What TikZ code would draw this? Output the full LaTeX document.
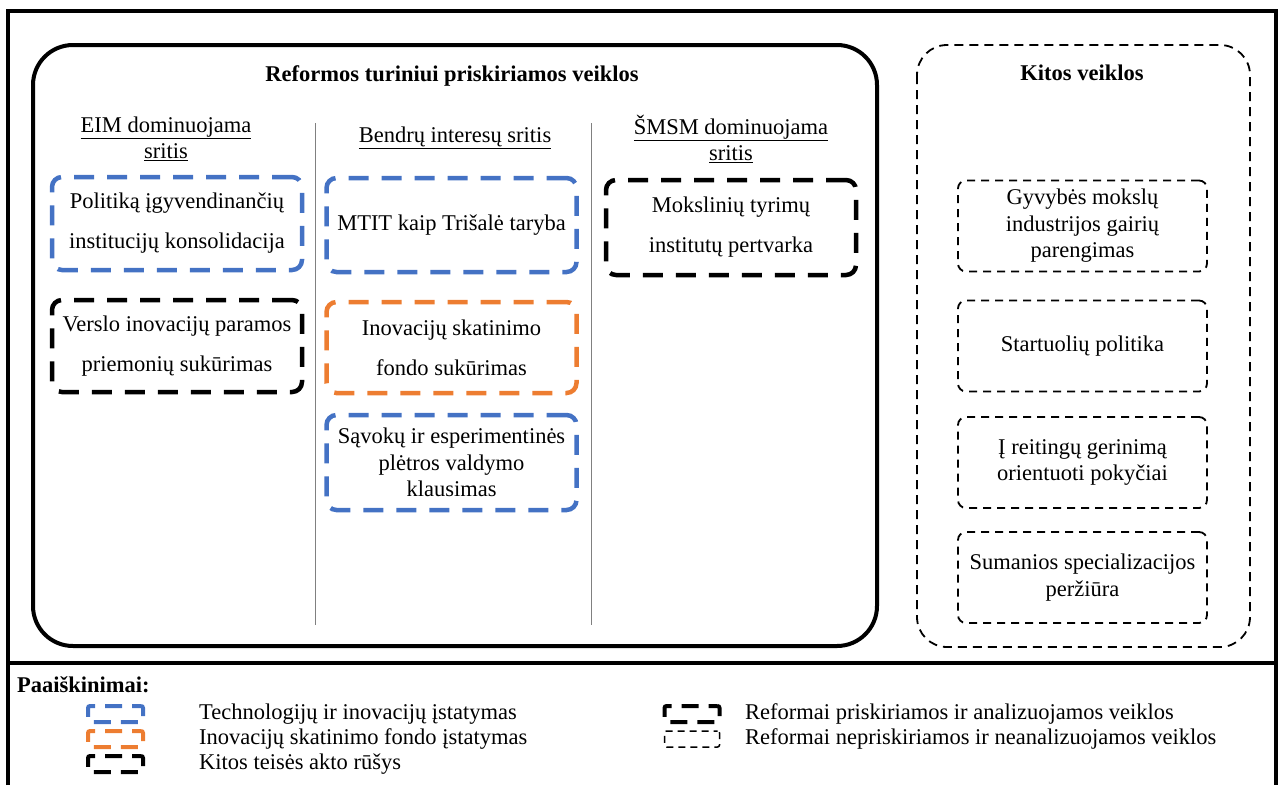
\documentclass[tikz,border=0pt]{standalone}
\usepackage{fontspec}
\setmainfont{Liberation Serif}
\definecolor{titblue}{RGB}{68,114,196}
\definecolor{isforange}{RGB}{237,125,49}

\begin{document}
\begin{tikzpicture}[x=1pt,y=-1pt,
  every node/.style={font=\fontsize{22.5}{26.5}\selectfont, align=center, inner sep=2pt},
  boldtxt/.style={font=\bfseries\fontsize{22.5}{26.5}\selectfont},
  actbox/.style={draw, line width=4.5pt, dash pattern=on 20pt off 13pt, rounded corners=10pt, minimum width=250pt},
  otherbox/.style={draw, line width=1.8pt, dash pattern=on 8pt off 6pt, rounded corners=8pt, minimum width=249pt, minimum height=91pt},
  widelines/.style={font=\fontsize{22.5}{40}\selectfont},
  legsym/.style={draw, line width=4pt, dash pattern=on 17pt off 10pt, dash phase=8pt, rounded corners=2pt, minimum width=55pt, minimum height=16pt, inner sep=0pt},
  legtext/.style={anchor=west, inner sep=0pt}]
  \useasboundingbox (0,0) rectangle (1283,785);

  \draw[line width=4pt] (8,785) -- (8,10.5) -- (1276,10.5) -- (1276,785);
  \draw[line width=3.5pt] (8,663) -- (1276,663);

  \draw[line width=4pt, rounded corners=40pt] (33,45) rectangle (877,646);
  \node[boldtxt] (reftitle) at (452,76) {Reformos turiniui priskiriamos veiklos};
  \node (eimhead) at (166,139) {\underline{EIM dominuojama}\\\underline{sritis}};
  \node (bendrhead) at (455,138) {\underline{Bendrų interesų sritis}};
  \node (smsmhead) at (731,139) {\underline{ŠMSM dominuojama}\\\underline{sritis}};
  \draw[gray, line width=1pt] (315,123) -- (315,625);
  \draw[gray, line width=1pt] (591,123) -- (591,625);

  \node[actbox, draw=titblue, widelines, minimum height=93pt] (polit) at (177,223.5) {Politiką įgyvendinančių\\institucijų konsolidacija};
  \node[actbox, widelines, minimum height=92pt] (verslo) at (177,346) {Verslo inovacijų paramos\\priemonių sukūrimas};
  \node[actbox, draw=titblue, minimum height=94pt] (mtit) at (451.5,225) {MTIT kaip Trišalė taryba};
  \node[actbox, draw=isforange, widelines, minimum height=91pt] (fondas) at (451.5,347.5) {Inovacijų skatinimo\\fondo sukūrimas};
  \node[actbox, draw=titblue, minimum height=95pt] (savoku) at (451.5,462.5) {Sąvokų ir esperimentinės\\plėtros valdymo\\klausimas};
  \node[actbox, widelines, minimum height=95pt] (moksl) at (731,227.5) {Mokslinių tyrimų\\institutų pertvarka};

  \draw[line width=1.8pt, dash pattern=on 9pt off 6pt, rounded corners=30pt] (917,45) rectangle (1250,647);
  \node[boldtxt] (kittitle) at (1082,73) {Kitos veiklos};
  \node[otherbox] (gyvyb) at (1082.5,226) {Gyvybės mokslų\\industrijos gairių\\parengimas};
  \node[otherbox] (startuol) at (1082.5,346) {Startuolių politika};
  \node[otherbox] (reiting) at (1082.5,462.5) {Į reitingų gerinimą\\orientuoti pokyčiai};
  \node[otherbox] (suman) at (1082.5,577.5) {Sumanios specializacijos\\peržiūra};

  \node[boldtxt, anchor=west, inner sep=0pt] (legtitle) at (17,685) {Paaiškinimai:};
  \node[legsym, draw=titblue] (legtit) at (115.5,714) {};
  \node[legsym, draw=isforange] (legisf) at (115.5,739) {};
  \node[legsym] (legkit) at (115.5,764) {};
  \node[legtext] (legtittxt) at (199,714) {Technologijų ir inovacijų įstatymas};
  \node[legtext] (legisftxt) at (199,739) {Inovacijų skatinimo fondo įstatymas};
  \node[legtext] (legkittxt) at (199,764) {Kitos teisės akto rūšys};
  \node[legsym] (legpri) at (692,714) {};
  \node[legsym, line width=1.5pt, dash pattern=on 7pt off 5pt, dash phase=3pt] (legnepri) at (692,739) {};
  \node[legtext] (legpritxt) at (745,714) {Reformai priskiriamos ir analizuojamos veiklos};
  \node[legtext] (legnepritxt) at (745,739) {Reformai nepriskiriamos ir neanalizuojamos veiklos};
\end{tikzpicture}
\end{document}
